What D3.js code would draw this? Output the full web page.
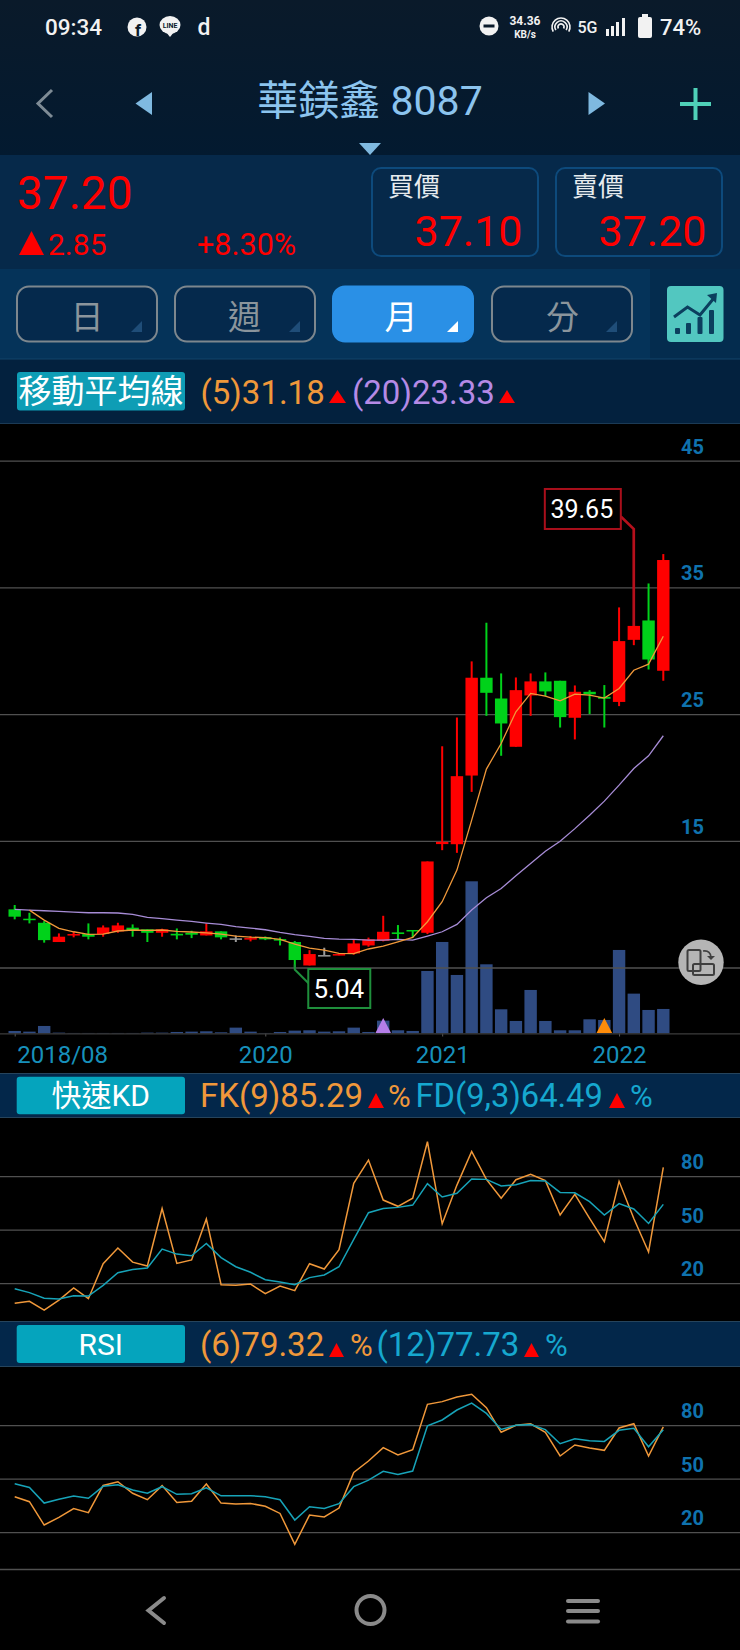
<!DOCTYPE html>
<html>
<head>
<meta charset="utf-8">
<script src="https://cdn.jsdelivr.net/npm/d3@7"></script>
<style>
  html, body { margin: 0; padding: 0; background: #000; }
  svg { display: block; }
  text { font-family: Roboto, "Noto Sans CJK TC", sans-serif; }
  .domain { display: none; }
</style>
</head>
<body>
<div id="chart"></div>
<script>
//data below
const months = [
  "2018/08","2018/09","2018/10","2018/11","2018/12",
  "2019/01","2019/02","2019/03","2019/04","2019/05","2019/06","2019/07","2019/08","2019/09","2019/10","2019/11","2019/12",
  "2020/01","2020/02","2020/03","2020/04","2020/05","2020/06","2020/07","2020/08","2020/09","2020/10","2020/11","2020/12",
  "2021/01","2021/02","2021/03","2021/04","2021/05","2021/06","2021/07","2021/08","2021/09","2021/10","2021/11","2021/12",
  "2022/01","2022/02","2022/03","2022/04"];

const open = [9.63,8.89,8.57,7.05,7.57,7.68,7.68,7.89,8.18,8.05,7.78,7.7,7.78,7.57,7.89,7.34,7.26,7.44,7.28,7.05,5.2,6.02,6.0,6.15,6.78,
  7.15,7.81,8.0,7.78,14.78,14.77,20.19,27.91,26.27,22.46,26.51,27.62,27.67,24.75,26.8,26.4,26.0,30.9,32.43,28.46];
const high = [9.97,9.36,8.7,7.73,7.84,8.52,8.36,8.57,8.44,8.05,8.1,8.12,7.94,8.52,7.89,7.57,7.52,7.49,7.41,7.13,6.41,6.6,6.1,7.26,7.4,
  9.12,8.39,8.0,13.41,22.5,24.77,29.2,32.25,28.25,27.93,28.25,28.33,27.67,27.3,26.93,27.33,33.46,39.65,35.35,37.67];
const low = [8.84,8.52,7.0,7.05,7.42,7.26,7.47,7.78,7.47,7.05,7.47,7.26,7.36,7.57,7.26,7.05,7.1,7.2,6.78,5.04,5.2,6.0,6.0,6.05,6.68,
  7.1,7.2,7.4,7.68,14.3,14.09,18.9,24.9,21.75,22.46,24.9,26.46,23.98,23.04,25.04,23.98,25.67,30.48,28.56,27.67];
const close = [9.05,8.84,7.2,7.47,7.68,7.47,8.2,8.36,7.97,7.78,8.05,7.57,7.63,7.89,7.42,7.34,7.36,7.26,7.2,5.63,6.1,6.02,6.1,6.94,7.26,
  7.86,7.68,7.9,13.41,14.96,20.14,27.91,26.72,24.3,26.93,27.62,26.83,24.8,26.8,26.6,26.25,30.8,32.0,29.35,37.2];

const ma5 = [null,9.57,8.78,8.13,7.86,7.65,7.68,7.92,8.0,7.97,8.0,7.89,7.84,7.78,7.68,7.52,7.44,7.39,7.26,6.89,6.57,6.41,6.15,6.13,6.5,
  6.73,7.07,7.41,8.65,10.23,12.73,16.67,20.7,22.72,25.22,26.67,26.46,26.09,26.62,26.54,26.3,27.06,28.5,28.98,31.18];
const ma20 = [9.63,9.57,9.52,9.47,9.41,9.36,9.36,9.34,9.23,9.0,8.89,8.78,8.68,8.55,8.44,8.26,8.15,8.02,7.81,7.63,7.49,7.34,7.28,7.26,7.2,
  7.2,7.26,7.2,7.52,7.86,8.44,9.57,10.55,11.28,12.28,13.25,14.22,15.0,16.0,17.06,18.17,19.43,20.75,21.75,23.33];
const volume = [7,5,22,2,1,1,1,1,1,2,2,4,5,6,3,17,5,1,4,8,9,5,6,17,4,
  38,9,7,187,274,175,456,207,72,37,130,37,9,9,42,40,250,119,70,73];

const fk = [9,10.1,5.2,10.8,17.6,11.6,31.2,40,32.1,29.9,62.2,31.4,33.3,56.3,19.4,19.1,19.8,14.4,18.7,16.1,31.2,28.2,39.1,76.3,89.3,
  66.9,63.4,67.9,99.6,53.6,75.3,94.2,78.5,67.9,78.3,81.3,77.8,58.5,70.1,56.6,43.6,77.4,56.6,37.8,85.29];
const fd = [17.2,15,11.8,11.4,13.3,13.1,19.1,26.2,28,28.8,39.4,36.6,35.7,42.6,34.6,29.5,26.4,22.2,20.9,19.4,23.4,24.9,29.5,44.9,59.8,
  62.2,62.8,64.1,76.1,68.6,70.7,78.7,78.5,74.8,75.5,77.9,77.6,71.2,71,66,58.5,64.9,61.9,53.8,64.49];
const rsi6 = [40.2,37.4,24.3,28.6,33.5,31.2,46.5,48.6,42.1,38.5,46.4,37,37.6,47.3,36.6,36.1,36.4,34.8,30.8,13.5,29.9,28.8,33.8,53.8,60.2,
  67.7,63.6,66.5,92,93.5,96.1,97.6,90.1,76.3,80.2,81.1,76.3,63,69.2,67.5,66.2,78.7,81.1,63,79.32];
const rsi12 = [47.5,45.4,36.6,38.7,40.6,39.3,46,46.9,43.9,42.2,45.8,41.5,41.9,45.2,40.7,40.7,40.7,40.2,38.5,27.1,34.6,33.6,36.3,45.8,49.5,
  54.4,52.7,54.6,80,83.2,88.8,92.7,86.9,77.9,80.2,80.6,77.8,69.9,72.7,71.6,71.2,77.4,78.5,68.2,77.73];

const priceTicks = [45,35,25,15,5];
const oscTicks = [80,50,20];
const timeTicks = ["2018/08","2020/01","2021/01","2022/01"];
const timeLabels = ["2018/08","2020","2021","2022"];
const markerMonths = ["2020/09","2021/12"];

//colors
const red = "#ff0000", green = "#00d21a", grey = "#9a9a9a";
const orange = "#f0983a", purple = "#b58ae6", teal = "#17a3b8", cyan = "#16a8cf";
const gridColor = "#505050", tickColor = "#0f72ae";

//set up svg
const width = 740, height = 1650;
const svg = d3.select("#chart").append("svg").attr("width", width).attr("height", height);

//helper for plain text
function label(s, x, y, size, fill, anchor, weight) {
  return svg.append("text").text(s).attr("x", x).attr("y", y)
    .attr("font-size", size).attr("fill", fill)
    .attr("text-anchor", anchor || "start").attr("font-weight", weight || 400);
}
function box(x, y, w, h, fill, rx) {
  return svg.append("rect").attr("x", x).attr("y", y).attr("width", w).attr("height", h)
    .attr("fill", fill).attr("rx", rx || 0);
}
function tri(points, fill) {
  return svg.append("polygon").attr("points", points).attr("fill", fill);
}
function upTriangle(x0, x1, y0, y1) {
  return tri(x0 + "," + y1 + " " + x1 + "," + y1 + " " + (x0 + x1) / 2 + "," + y0, red);
}

//app header backgrounds
const defs = svg.append("defs");
const grad = defs.append("linearGradient").attr("id", "topbg").attr("x1", 0).attr("x2", 0).attr("y1", 0).attr("y2", 1);
grad.append("stop").attr("offset", 0).attr("stop-color", "#0a1a2a");
grad.append("stop").attr("offset", 1).attr("stop-color", "#031a30");
box(0, 0, width, 155, "url(#topbg)");
box(0, 155, width, 114, "#06294a");
box(0, 269, width, 90, "#053359");
box(650, 269, 90, 90, "#042c4e");
box(0, 359, width, 64, "#03213e");
svg.append("line").attr("x1", 0).attr("x2", width).attr("y1", 359).attr("y2", 359).attr("stroke", "#13456b");
svg.append("line").attr("x1", 0).attr("x2", width).attr("y1", 423.5).attr("y2", 423.5).attr("stroke", "#1b3a55");

//status bar
label("09:34", 45, 35, 22.5, "#f2f2f2", "start", 500);
svg.append("circle").attr("cx", 137).attr("cy", 27).attr("r", 9.5).attr("fill", "#f2f2f2");
label("f", 138, 36, 17, "#0a1a2a", "middle", 700);
svg.append("ellipse").attr("cx", 170).attr("cy", 25).attr("rx", 10.5).attr("ry", 9).attr("fill", "#f2f2f2");
tri("166,32 174,32 170,37", "#f2f2f2");
label("LINE", 170, 28, 7, "#0a1a2a", "middle", 700);
label("d", 204, 35, 23, "#f2f2f2", "middle", 500);
svg.append("circle").attr("cx", 489).attr("cy", 26).attr("r", 9.5).attr("fill", "#f2f2f2");
box(483.5, 24.5, 11, 3, "#0a1a2a");
label("34.36", 525, 25, 12, "#f2f2f2", "middle", 700);
label("KB/s", 525, 38, 10, "#f2f2f2", "middle", 700);
[3, 6, 9].forEach(function(r) {
  svg.append("path").attr("d", d3.arc()({innerRadius: r - 0.8, outerRadius: r + 0.8, startAngle: -2.1, endAngle: 2.1}))
    .attr("transform", "translate(561,27)").attr("fill", "#f2f2f2");
});
label("5G", 587.5, 33, 16, "#f2f2f2", "middle", 500);
[[606, 29], [611, 26], [616, 22], [622, 18]].forEach(function(d) {
  box(d[0], d[1], 3, 36 - d[1], "#f2f2f2");
});
box(638, 17, 14, 21, "#f2f2f2", 2);
box(642, 14, 6, 3, "#f2f2f2");
label("74%", 660, 35, 22, "#f2f2f2", "start", 500);

//title row
svg.append("polyline").attr("points", "52,90 38,103.5 52,117").attr("fill", "none").attr("stroke", "#7e8b95").attr("stroke-width", 3);
tri("152,92 152,115 135.5,103.5", "#7fb9e0");
tri("588.5,92 588.5,115 605,103.5", "#7fb9e0");
label("華鎂鑫 8087", 370, 115, 41, "#8cc4ee", "middle");
box(680, 102, 31, 4, "#4fd1b8");
box(693.5, 88, 4, 32, "#4fd1b8");
tri("359,143 381,143 370,155", "#7fb9e0");

//quote row
label("37.20", 17, 209, 46, red);
tri("19,255 44,255 31.5,231", red);
label("2.85", 48, 255, 30, red);
label("+8.30%", 197, 255, 30.5, red);
[[372, 166, "買價", 388, "37.10"], [556, 166, "賣價", 572, "37.20"]].forEach(function(d) {
  svg.append("rect").attr("x", d[0]).attr("y", 168).attr("width", d[1]).attr("height", 88)
    .attr("rx", 9).attr("fill", "none").attr("stroke", "#0d4a7c").attr("stroke-width", 2);
  label(d[2], d[3], 196, 26, "#e6ebee");
  label(d[4], d[0] + 150.5, 246, 43, red, "end");
});

//period tabs
[[17, "日", 87], [175, "週", 244.5], [333, "月", 401], [492, "分", 562.5]].forEach(function(d, i) {
  const on = i === 2;
  svg.append("rect").attr("x", d[0]).attr("y", 286.5).attr("width", 140).attr("height", 55).attr("rx", 12)
    .attr("fill", on ? "#2a90e6" : "#05294c").attr("stroke", on ? "#2a90e6" : "#7d878e").attr("stroke-width", 2);
  label(d[1], d[2], 329, 33, on ? "#ffffff" : "#8b959c", "middle");
  const cx = d[0] + 125;
  tri((cx - 11) + ",332 " + cx + ",332 " + cx + ",321", on ? "#ffffff" : "#1f4d78");
});
box(667, 286, 56.5, 56, "#52c7c0", 4);
[[675, 328], [686, 323], [697.5, 317], [709, 310]].forEach(function(d) {
  box(d[0], d[1], 5, 334 - d[1], "#0b3f5e", 1);
});
svg.append("polyline").attr("points", "674,317 687.5,307 700,315 714,298").attr("fill", "none").attr("stroke", "#0b3f5e").attr("stroke-width", 3);
tri("707,295 717,293 716,303", "#0b3f5e");

//MA legend
box(17, 372, 168, 38.5, "#0e9db5", 3);
label("移動平均線", 101, 403, 33, "#ffffff", "middle");
label("(5)31.18", 200.5, 404, 33, orange);
upTriangle(329, 346, 390, 403);
label("(20)23.33", 352, 404, 33, purple);
upTriangle(499, 515, 390, 403);

//set up scales
const x = d3.scalePoint().domain(months).range([14.7, 663.3]);
const yPrice = d3.scaleLinear().domain([5, 45]).range([968, 461.2]);
const yVolume = d3.scaleLinear().domain([0, 456]).range([1033.3, 881.3]);
const yKD = d3.scaleLinear().domain([20, 80]).range([1283.7, 1176.7]);
const yRSI = d3.scaleLinear().domain([20, 80]).range([1532.7, 1425.7]);
const bodyWidth = 12.4;

//volume sits under the grid
svg.append("g").selectAll("rect").data(months).enter().append("rect")
  .attr("x", d => x(d) - bodyWidth / 2)
  .attr("width", bodyWidth)
  .attr("y", (d, i) => yVolume(volume[i]))
  .attr("height", (d, i) => yVolume(0) - yVolume(volume[i]))
  .attr("fill", "#2f4b82");

function grid(scale, ticks) {
  svg.append("g").selectAll("line").data(ticks).enter().append("line")
    .attr("x1", 0).attr("x2", width)
    .attr("y1", d => scale(d)).attr("y2", d => scale(d))
    .attr("stroke", gridColor).attr("stroke-width", 1.3);
}
function sideAxis(scale, ticks) {
  const g = svg.append("g").attr("transform", "translate(692.5,0)")
    .call(d3.axisRight(scale).tickValues(ticks).tickSize(0).tickPadding(0));
  g.selectAll("text").attr("x", 0).attr("y", -14.5).attr("text-anchor", "middle")
    .attr("font-size", 20).attr("font-weight", 700).attr("fill", tickColor)
    .style("font-family", "Roboto");
}

grid(yPrice, priceTicks);
sideAxis(yPrice, priceTicks);

//time axis
const xAxis = svg.append("g").attr("transform", "translate(0,1033.5)")
  .call(d3.axisBottom(x).tickValues(timeTicks).tickFormat((d, i) => timeLabels[i]).tickSize(3).tickPadding(9));
xAxis.selectAll("line").attr("stroke", "#5a5a5a");
xAxis.selectAll("text").attr("font-size", 24).attr("fill", "#1790bb").style("font-family", "Roboto");
xAxis.selectAll("text").filter((d, i) => i === 0).attr("text-anchor", "start").attr("x", 2);
svg.append("line").attr("x1", 0).attr("x2", width).attr("y1", 1033.8).attr("y2", 1033.8).attr("stroke", "#3c3c3c").attr("stroke-width", 1.3);

//draw candles
function candleColor(i) {
  if (close[i] === open[i]) return grey;
  return close[i] > open[i] ? red : green;
}
const candles = svg.append("g").selectAll("g").data(months).enter().append("g");
candles.append("line")
  .attr("x1", d => x(d)).attr("x2", d => x(d))
  .attr("y1", (d, i) => yPrice(high[i]))
  .attr("y2", (d, i) => yPrice(low[i]))
  .attr("stroke", (d, i) => candleColor(i))
  .attr("stroke-width", 2);
candles.append("rect")
  .attr("x", d => x(d) - bodyWidth / 2)
  .attr("width", bodyWidth)
  .attr("y", (d, i) => yPrice(Math.max(open[i], close[i])))
  .attr("height", (d, i) => Math.max(1.5, Math.abs(yPrice(open[i]) - yPrice(close[i]))))
  .attr("fill", (d, i) => candleColor(i));

//moving averages
function drawLine(values, scale, color, w) {
  const line = d3.line().defined(d => d !== null).x((d, i) => x(months[i])).y(d => scale(d));
  svg.append("path").datum(values).attr("d", line)
    .attr("fill", "none").attr("stroke", color).attr("stroke-width", w);
}
drawLine(ma20, yPrice, "#a78cd6", 1.3);
drawLine(ma5, yPrice, orange, 1.3);

//high and low callouts
const hiMonth = months[d3.maxIndex(high)], loMonth = months[d3.minIndex(low)];
const hx = x(hiMonth), hy = yPrice(d3.max(high));
svg.append("polyline")
  .attr("points", [[hx - 13, hy - 12.5], [hx, hy], [hx, yPrice(close[d3.maxIndex(high)])]].join(" "))
  .attr("fill", "none").attr("stroke", "#b5101c").attr("stroke-width", 2.6);
svg.append("rect").attr("x", hx - 89).attr("y", hy - 40).attr("width", 76).attr("height", 40)
  .attr("fill", "#000").attr("stroke", "#a90f1b").attr("stroke-width", 2);
label(d3.max(high).toFixed(2), hx - 52, hy - 10.5, 25, "#ffffff", "middle");

const lx = x(loMonth), ly = yPrice(d3.min(low));
svg.append("polyline")
  .attr("points", [[lx, ly - 3], [lx, ly + 2], [lx + 14, ly + 16]].join(" "))
  .attr("fill", "none").attr("stroke", "#1f8f3c").attr("stroke-width", 2);
svg.append("rect").attr("x", lx + 13.5).attr("y", ly + 1.5).attr("width", 62).attr("height", 39)
  .attr("fill", "#000").attr("stroke", "#1f8f3c").attr("stroke-width", 2);
label(d3.min(low).toFixed(2), lx + 44, ly + 31, 26, "#ffffff", "middle");

//signal markers on the volume axis
svg.append("g").selectAll("path").data(markerMonths).enter().append("path")
  .attr("d", d => "M" + (x(d) - 7.8) + ",1033 L" + (x(d) + 7.8) + ",1033 L" + x(d) + ",1018 Z")
  .attr("fill", (d, i) => i === 0 ? "#b57ee8" : "#ff8c0a");

//screen rotate button
svg.append("circle").attr("cx", 701).attr("cy", 962.3).attr("r", 22.7).attr("fill", "#b5b5b5");
svg.append("rect").attr("x", 687.5).attr("y", 950).attr("width", 13).attr("height", 21).attr("rx", 1.5)
  .attr("fill", "none").attr("stroke", "#3f3f3f").attr("stroke-width", 2);
svg.append("rect").attr("x", 693).attr("y", 964).attr("width", 21).attr("height", 11).attr("rx", 1.5)
  .attr("fill", "none").attr("stroke", "#3f3f3f").attr("stroke-width", 2);
svg.append("path").attr("d", "M703,951 Q710,950 711,957").attr("fill", "none").attr("stroke", "#3f3f3f").attr("stroke-width", 1.6);
tri("707,956 715,956 711,960", "#3f3f3f");

//KD panel
box(0, 1073, width, 45, "#03274a");
svg.append("line").attr("x1", 0).attr("x2", width).attr("y1", 1073.5).attr("y2", 1073.5).attr("stroke", "#26445c");
svg.append("line").attr("x1", 0).attr("x2", width).attr("y1", 1117.5).attr("y2", 1117.5).attr("stroke", "#26445c");
box(16.7, 1076.7, 168.3, 37.6, "#05a4bd", 3);
label("快速KD", 100.7, 1106, 30, "#ffffff", "middle");
label("FK(9)85.29", 200, 1107, 33, orange);
upTriangle(368, 384, 1093, 1108);
label("%", 388, 1107, 31, orange);
label("FD(9,3)64.49", 415.5, 1107, 32.7, cyan);
upTriangle(609, 625, 1093, 1108);
label("%", 630, 1107, 31, cyan);

grid(yKD, oscTicks);
sideAxis(yKD, oscTicks);
drawLine(fk, yKD, orange, 1.5);
drawLine(fd, yKD, teal, 1.5);

//RSI panel
box(0, 1321, width, 46, "#03274a");
svg.append("line").attr("x1", 0).attr("x2", width).attr("y1", 1321.5).attr("y2", 1321.5).attr("stroke", "#26445c");
svg.append("line").attr("x1", 0).attr("x2", width).attr("y1", 1366.5).attr("y2", 1366.5).attr("stroke", "#26445c");
box(16.7, 1325, 168.3, 38, "#05a4bd", 3);
label("RSI", 100.7, 1355, 30, "#ffffff", "middle");
label("(6)79.32", 200, 1356, 33, orange);
upTriangle(329, 344, 1343, 1357);
label("%", 350, 1356, 31, orange);
label("(12)77.73", 376.5, 1356, 33, cyan);
upTriangle(524, 539, 1343, 1357);
label("%", 545, 1356, 31, cyan);

grid(yRSI, oscTicks);
sideAxis(yRSI, oscTicks);
drawLine(rsi6, yRSI, orange, 1.5);
drawLine(rsi12, yRSI, teal, 1.5);
svg.append("line").attr("x1", 0).attr("x2", width).attr("y1", 1569.5).attr("y2", 1569.5).attr("stroke", gridColor).attr("stroke-width", 1.3);

//android nav bar
svg.append("polyline").attr("points", "164,1598 148.5,1610.5 164,1623").attr("fill", "none").attr("stroke", "#8a8a8a").attr("stroke-width", 4).attr("stroke-linecap", "round");
svg.append("circle").attr("cx", 370.5).attr("cy", 1610).attr("r", 14).attr("fill", "none").attr("stroke", "#8a8a8a").attr("stroke-width", 4);
[1601, 1611, 1621.5].forEach(function(y) {
  svg.append("line").attr("x1", 568).attr("x2", 598).attr("y1", y).attr("y2", y)
    .attr("stroke", "#8a8a8a").attr("stroke-width", 4).attr("stroke-linecap", "round");
});
</script>
</body>
</html>
